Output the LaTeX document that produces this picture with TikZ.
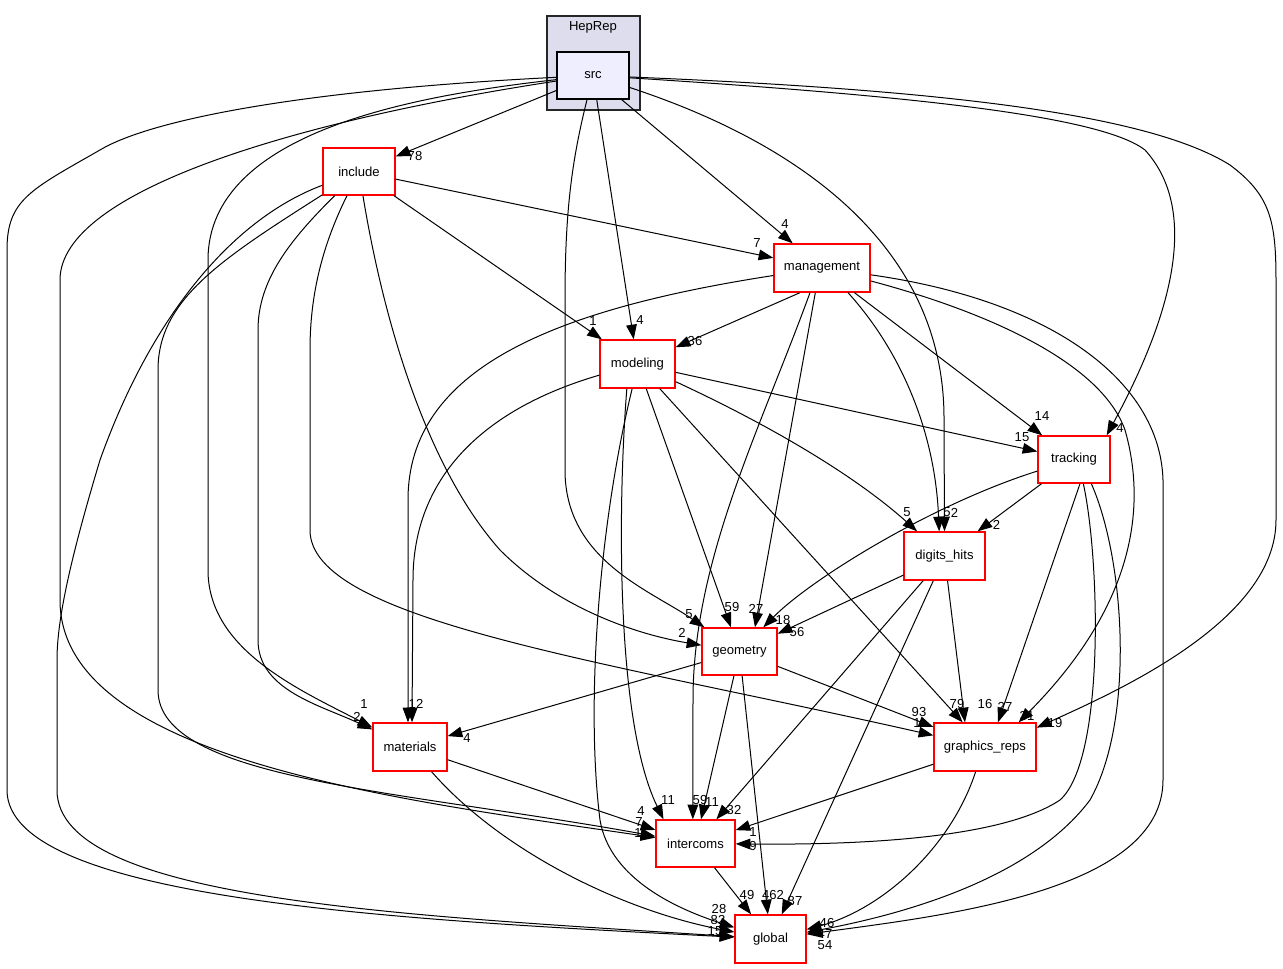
\documentclass[tikz,border=0pt]{standalone}
\usepackage{fontspec}
\setmainfont{Liberation Sans}
\usetikzlibrary{arrows.meta}
\begin{document}
\begin{tikzpicture}[x=0.75pt,y=-0.75pt,
  dir/.style={draw=red,fill=white,line width=1pt,inner sep=0pt,font=\fontsize{9.8}{11}\selectfont},
  edge/.style={draw=black,line width=0.75pt,-{Triangle[length=11pt,width=8pt]}},
  lbl/.style={inner sep=0pt,font=\fontsize{9.8}{11}\selectfont}]
\useasboundingbox (0,0) rectangle (1283,969);
% cluster
\node[draw=black!85,fill={rgb,255:red,221;green,221;blue,238},line width=1pt,minimum width=69.75pt,minimum height=70.5pt,inner sep=0pt] (cl) at (593.5,63) {};
\node[inner sep=0pt,font=\fontsize{9.8}{11}\selectfont] (cltitle) at (593,27) {HepRep};
\node[draw=black,fill={rgb,255:red,238;green,238;blue,255},line width=1pt,minimum width=54pt,minimum height=35.25pt,inner sep=0pt,font=\fontsize{9.8}{11}\selectfont] (src) at (593,75.5) {src};
% directories
\node[dir,minimum width=54pt,minimum height=35.25pt] (include) at (359,171.5) {include};
\node[dir,minimum width=72pt,minimum height=36pt] (management) at (822,268) {management};
\node[dir,minimum width=56.25pt,minimum height=36pt] (modeling) at (637.5,364) {modeling};
\node[dir,minimum width=54pt,minimum height=35.25pt] (tracking) at (1074,459.5) {tracking};
\node[dir,minimum width=60.75pt,minimum height=36pt] (digits) at (944.5,556) {digits\_hits};
\node[dir,minimum width=56.25pt,minimum height=35.25pt] (geometry) at (739.5,651.5) {geometry};
\node[dir,minimum width=55.5pt,minimum height=36pt] (materials) at (410,747) {materials};
\node[dir,minimum width=76.5pt,minimum height=36pt] (graphics) at (985,747) {graphics\_reps};
\node[dir,minimum width=59.25pt,minimum height=35.25pt] (intercoms) at (695.5,843.5) {intercoms};
\node[dir,minimum width=53.25pt,minimum height=36pt] (global) at (770.5,939) {global};

% ---- src edges
\draw[edge] (src) -- (include);
\draw[edge] (src) -- (management);
\draw[edge] (src) -- (modeling);
\draw[edge] (src) .. controls (572,160) and (565,210) .. (565,300) -- (565,470) .. controls (565,560) and (650,590) .. (geometry);
\draw[edge] (src) .. controls (820,150) and (945,260) .. (944,420) -- (digits.north);
\draw[edge] (src) .. controls (900,95) and (1100,115) .. (1145,150) .. controls (1195,205) and (1180,300) .. ([xshift=-3pt]tracking.north east);
\draw[edge] (src) .. controls (950,90) and (1150,115) .. (1230,165) .. controls (1270,195) and (1276,220) .. (1276,280) -- (1276,520) .. controls (1276,620) and (1120,690) .. ([yshift=-4pt]graphics.north east);
\draw[edge] (src) .. controls (420,95) and (208,130) .. (208,260) -- (208,570) .. controls (208,650) and (300,690) .. (materials);
\draw[edge] (src) .. controls (300,120) and (60,190) .. (60,280) -- (60,600) .. controls (60,760) and (400,800) .. (intercoms);
\draw[edge] (src) .. controls (300,90) and (150,120) .. (100,150) .. controls (30,190) and (7,200) .. (7,250) -- (7,790) .. controls (7,900) and (400,920) .. (global);

% ---- include edges
\draw[edge] (include) -- (management);
\draw[edge] (include) -- (modeling);
\draw[edge] (include) .. controls (380,300) and (420,460) .. (500,550) .. controls (560,610) and (640,635) .. (geometry);
\draw[edge] (include) .. controls (320,250) and (310,300) .. (310,350) -- (310,530) .. controls (310,620) and (600,660) .. (graphics);
\draw[edge] (include) .. controls (290,240) and (258,280) .. (258,330) -- (258,640) .. controls (258,690) and (320,705) .. (materials);
\draw[edge] (include) .. controls (220,260) and (158,300) .. (158,370) -- (158,690) .. controls (158,780) and (400,790) .. (intercoms);
\draw[edge] (include) .. controls (230,220) and (150,320) .. (100,460) .. controls (70,560) and (57,620) .. (57,660) -- (57,790) .. controls (57,900) and (400,915) .. (global);

% ---- management edges
\draw[edge] ([xshift=-16.5pt]management.south) -- (modeling);
\draw[edge] (management) .. controls (550,310) and (408,370) .. (408,500) -- ([xshift=-1.5pt]materials.north);
\draw[edge] ([xshift=-9pt]management.south) .. controls (760,430) and (693,560) .. (693,700) -- ([xshift=-2pt]intercoms.north);
\draw[edge] ([xshift=-5pt]management.south) -- ([xshift=11.6pt]geometry.north);
\draw[edge] ([xshift=19.5pt]management.south) .. controls (900,350) and (935,430) .. ([xshift=-4pt]digits.north);
\draw[edge] (management) -- (tracking);
\draw[edge] (management) .. controls (980,310) and (1100,360) .. (1125,430) .. controls (1145,500) and (1140,600) .. ([xshift=-13.5pt]graphics.north east);
\draw[edge] (management) .. controls (1050,300) and (1160,380) .. (1163,480) -- (1163,780) .. controls (1163,890) and (950,915) .. (global);

% ---- modeling edges
\draw[edge] (modeling) -- (tracking);
\draw[edge] (modeling) .. controls (780,430) and (860,480) .. (digits);
\draw[edge] (modeling) -- (geometry);
\draw[edge] (modeling) -- (graphics);
\draw[edge] (modeling) .. controls (480,410) and (413,480) .. (413,580) -- ([xshift=1.5pt]materials.north);
\draw[edge] ([xshift=-8pt]modeling.south) .. controls (618,500) and (615,720) .. ([xshift=-24pt]intercoms.north);
\draw[edge] ([xshift=-4pt]modeling.south) .. controls (600,520) and (585,700) .. (600,820) .. controls (610,880) and (680,910) .. (global);

% ---- tracking edges
\draw[edge] (tracking) -- (digits);
\draw[edge] (tracking) .. controls (930,505) and (810,580) .. (geometry);
\draw[edge] ([xshift=4.5pt]tracking.south) -- ([xshift=9.75pt]graphics.north);
\draw[edge] ([xshift=7pt]tracking.south) .. controls (1100,560) and (1105,760) .. (1060,800) .. controls (1000,840) and (850,845) .. (intercoms);
\draw[edge] ([xshift=13pt]tracking.south) .. controls (1125,560) and (1135,720) .. (1090,800) .. controls (1030,880) and (900,915) .. (global);

% ---- digits_hits edges
\draw[edge] (digits) -- (geometry);
\draw[edge] (digits) -- ([xshift=-15pt]graphics.north);
\draw[edge] (digits) -- (intercoms);
\draw[edge] (digits) -- (global);

% ---- geometry edges
\draw[edge] (geometry) -- (materials);
\draw[edge] (geometry) -- (graphics);
\draw[edge] (geometry) -- (intercoms);
\draw[edge] (geometry) -- (global);

% ---- materials, graphics_reps, intercoms edges
\draw[edge] (materials) -- (intercoms);
\draw[edge] (materials) .. controls (500,850) and (620,910) .. (global);
\draw[edge] (graphics) -- (intercoms);
\draw[edge] ([xshift=-7pt]graphics.south) .. controls (950,850) and (880,910) .. (global);
\draw[edge] (intercoms) -- (global);

% ---- labels
\node[lbl] (l1) at (415,156.5) {78};
\node[lbl] (l2) at (785,224) {4};
\node[lbl] (l3) at (640,320) {4};
\node[lbl] (l4) at (1120,428) {4};
\node[lbl] (l5) at (757,243) {7};
\node[lbl] (l6) at (593,321) {1};
\node[lbl] (l7) at (695,341.5) {36};
\node[lbl] (l8) at (1042,416) {14};
\node[lbl] (l9) at (1022,437) {15};
\node[lbl] (l10) at (907,512.5) {5};
\node[lbl] (l11) at (947,512.5) {5};
\node[lbl] (l12) at (954.5,512.5) {2};
\node[lbl] (l13) at (996.5,525) {2};
\node[lbl] (l14) at (689,614) {5};
\node[lbl] (l15) at (682,633) {2};
\node[lbl] (l16) at (732,607) {59};
\node[lbl] (l17) at (756,609) {27};
\node[lbl] (l18) at (783,620) {18};
\node[lbl] (l19) at (797,632) {56};
\node[lbl] (l20) at (364,704) {1};
\node[lbl] (l21) at (357,717) {2};
\node[lbl] (l22) at (416,704) {12};
\node[lbl] (l23) at (467,738) {4};
\node[lbl] (l24) at (919,712.5) {93};
\node[lbl] (l25) at (917,723) {1};
\node[lbl] (l26) at (957,704) {79};
\node[lbl] (l27) at (985,704) {16};
\node[lbl] (l28) at (1005,707) {27};
\node[lbl] (l29) at (1027,716) {31};
\node[lbl] (l30) at (1055,723) {19};
\node[lbl] (l31) at (641,811) {4};
\node[lbl] (l32) at (639,822) {7};
\node[lbl] (l33) at (638,833) {1};
\node[lbl] (l34) at (668,800) {11};
\node[lbl] (l35) at (700,800) {59};
\node[lbl] (l36) at (712,802) {11};
\node[lbl] (l37) at (734,810) {32};
\node[lbl] (l38) at (753,832) {1};
\node[lbl] (l39) at (753,846) {9};
\node[lbl] (l40) at (747,895) {49};
\node[lbl] (l41) at (773,895) {462};
\node[lbl] (l42) at (795,901) {87};
\node[lbl] (l43) at (719,909) {28};
\node[lbl] (l44) at (718,920) {82};
\node[lbl] (l45) at (715,931) {15};
\node[lbl] (l46) at (827,923) {46};
\node[lbl] (l47) at (825,934) {47};
\node[lbl] (l48) at (825,945) {54};
\end{tikzpicture}
\end{document}
